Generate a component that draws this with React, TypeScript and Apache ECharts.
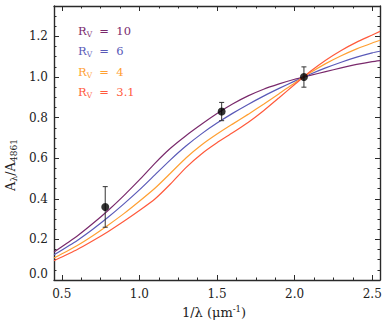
import React, { useEffect, useRef } from "react";
import * as echarts from "echarts";

// 1/lambda (micron^-1) sample positions
const invLambda = [0.45, 0.6, 0.7, 0.8, 0.9, 1.0, 1.1, 1.2, 1.3, 1.4, 1.5, 1.6, 1.7, 1.8, 1.9, 2.0, 2.1, 2.2, 2.3, 2.4, 2.5, 2.55];
// A_lambda / A_4861 curves
const rv10 = [0.138, 0.217, 0.278, 0.344, 0.416, 0.493, 0.575, 0.649, 0.711, 0.767, 0.820, 0.867, 0.907, 0.940, 0.966, 0.989, 1.008, 1.027, 1.045, 1.062, 1.076, 1.081];
const rv6 = [0.124, 0.195, 0.250, 0.310, 0.375, 0.444, 0.518, 0.592, 0.660, 0.720, 0.773, 0.821, 0.865, 0.906, 0.944, 0.980, 1.014, 1.045, 1.073, 1.098, 1.119, 1.127];
const rv4 = [0.108, 0.170, 0.218, 0.271, 0.327, 0.388, 0.452, 0.526, 0.601, 0.665, 0.719, 0.768, 0.816, 0.866, 0.918, 0.971, 1.021, 1.066, 1.105, 1.139, 1.168, 1.181];
const rv31 = [0.095, 0.150, 0.193, 0.239, 0.289, 0.342, 0.399, 0.473, 0.554, 0.621, 0.676, 0.725, 0.776, 0.834, 0.898, 0.963, 1.027, 1.083, 1.131, 1.172, 1.207, 1.225];
const curveNames = ["10", "6", "4", "3.1"];
const curveColors = ["#7a2a6c", "#5a5ab8", "#ffa033", "#ff5a3c"];

// observed points with error bars
const obsX = [0.78, 1.53, 2.06];
const obsY = [0.36, 0.83, 1.0];
const obsErr = [0.1, 0.045, 0.05];

// tick values
const xMajor = [0.5, 1.0, 1.5, 2.0, 2.5];
const xMinor = [0.5, 0.625, 0.75, 0.875, 1.0, 1.125, 1.25, 1.375, 1.5, 1.625, 1.75, 1.875, 2.0, 2.125, 2.25, 2.375, 2.5];
const yMajor = [0.0, 0.2, 0.4, 0.6, 0.8, 1.0, 1.2];
const yMinor = [0.05, 0.1, 0.15, 0.25, 0.3, 0.35, 0.45, 0.5, 0.55, 0.65, 0.7, 0.75, 0.85, 0.9, 0.95, 1.05, 1.1, 1.15, 1.25, 1.3];

const X_MIN = 0.45;
const X_MAX = 2.55;
const Y_MIN = 0;
const Y_MAX = 1.35;
const FONT = "DejaVu Serif";
const AX = "#2a2a2a";

function makeAxis(kind: "x" | "y", position: string, ticks: number[], len: number, labels: boolean, line: boolean) {
  const isX = kind === "x";
  return {
    type: "value",
    position,
    min: isX ? X_MIN : Y_MIN,
    max: isX ? X_MAX : Y_MAX,
    splitLine: { show: false },
    axisLine: { show: line, onZero: false, lineStyle: { color: AX, width: 1.4 } },
    axisTick: { show: true, inside: true, length: len, customValues: ticks, lineStyle: { color: AX, width: 1 } },
    axisLabel: {
      show: labels,
      customValues: ticks,
      fontFamily: FONT,
      fontSize: 12,
      color: "#222",
      margin: isX ? 8 : 6,
      verticalAlignMinLabel: isX ? undefined : "bottom",
      formatter: (v: number) => v.toFixed(1),
    },
  };
}

export default function App() {
  const ref = useRef<HTMLDivElement>(null);
  useEffect(() => {
    if (!ref.current) return;
    const chart = echarts.init(ref.current, undefined, { renderer: "svg" });
    const curves = [rv10, rv6, rv4, rv31];
    const lineSeries = curves.map((c, i) => ({
      type: "line",
      name: "Rv=" + curveNames[i],
      xAxisIndex: 0,
      yAxisIndex: 0,
      data: invLambda.map((x, j) => [x, c[j]]),
      showSymbol: false,
      smooth: 0.2,
      lineStyle: { color: curveColors[i], width: 1.2 },
      z: 2,
    }));
    const errData = obsX.map((x, i) => [x, obsY[i] - obsErr[i], obsY[i] + obsErr[i]]);
    const legendItems = curveNames.map((n, i) => ({
      type: "text",
      left: 78,
      top: 25 + i * 20.4,
      style: {
        text: "{r|R}{s|V}{r|  =  " + n + "}",
        fill: curveColors[i],
        rich: {
          r: { fontFamily: FONT, fontSize: 11.5, lineHeight: 15, fill: curveColors[i] },
          s: { fontFamily: FONT, fontSize: 7.5, lineHeight: 8, verticalAlign: "bottom", fill: curveColors[i] },
        },
      },
    }));
    chart.setOption({
      animation: false,
      grid: { left: 54, right: 8, top: 6, bottom: 43, containLabel: false },
      xAxis: [
        makeAxis("x", "bottom", xMajor, 5, true, true),
        makeAxis("x", "bottom", xMinor, 2.5, false, false),
        makeAxis("x", "top", xMajor, 5, false, true),
        makeAxis("x", "top", xMinor, 2.5, false, false),
      ],
      yAxis: [
        makeAxis("y", "left", yMajor, 5, true, true),
        makeAxis("y", "left", yMinor, 2.5, false, false),
        makeAxis("y", "right", yMajor, 5, false, true),
        makeAxis("y", "right", yMinor, 2.5, false, false),
      ],
      graphic: [
        ...legendItems,
        {
          type: "text",
          x: 10,
          y: 165,
          rotation: Math.PI / 2,
          style: {
            text: "{a|A}{s|λ}{a|/A}{s|4861}",
            align: "center",
            verticalAlign: "middle",
            fill: "#222",
            rich: {
              a: { fontFamily: FONT, fontSize: 13, lineHeight: 16, fill: "#222" },
              s: { fontFamily: FONT, fontSize: 9, lineHeight: 9, verticalAlign: "bottom", fill: "#222" },
            },
          },
        },
        {
          type: "text",
          x: 214,
          y: 312,
          style: {
            text: "{a|1/λ (μm}{p|-1}{a|)}",
            align: "center",
            verticalAlign: "middle",
            fill: "#222",
            rich: {
              a: { fontFamily: FONT, fontSize: 13, lineHeight: 16, fill: "#222" },
              p: { fontFamily: FONT, fontSize: 8.5, lineHeight: 9, verticalAlign: "top", fill: "#222" },
            },
          },
        },
      ],
      series: [
        ...lineSeries,
        {
          type: "custom",
          xAxisIndex: 0,
          yAxisIndex: 0,
          data: errData,
          z: 3,
          renderItem: (params: any, api: any) => {
            const x = api.value(0);
            const lo = api.coord([x, api.value(1)]);
            const hi = api.coord([x, api.value(2)]);
            const w = 2.5;
            const st = { stroke: "#333", lineWidth: 1 };
            return {
              type: "group",
              children: [
                { type: "line", shape: { x1: hi[0], y1: hi[1], x2: lo[0], y2: lo[1] }, style: st },
                { type: "line", shape: { x1: hi[0] - w, y1: hi[1], x2: hi[0] + w, y2: hi[1] }, style: st },
                { type: "line", shape: { x1: lo[0] - w, y1: lo[1], x2: lo[0] + w, y2: lo[1] }, style: st },
              ],
            };
          },
        },
        {
          type: "scatter",
          xAxisIndex: 0,
          yAxisIndex: 0,
          data: obsX.map((x, i) => [x, obsY[i]]),
          symbol: "circle",
          symbolSize: 8,
          itemStyle: { color: "#000" },
          z: 4,
        },
      ],
    });
    return () => chart.dispose();
  }, []);
  return <div ref={ref} style={{ width: 388, height: 323, position: "absolute", left: 0, top: 0 }} />;
}
